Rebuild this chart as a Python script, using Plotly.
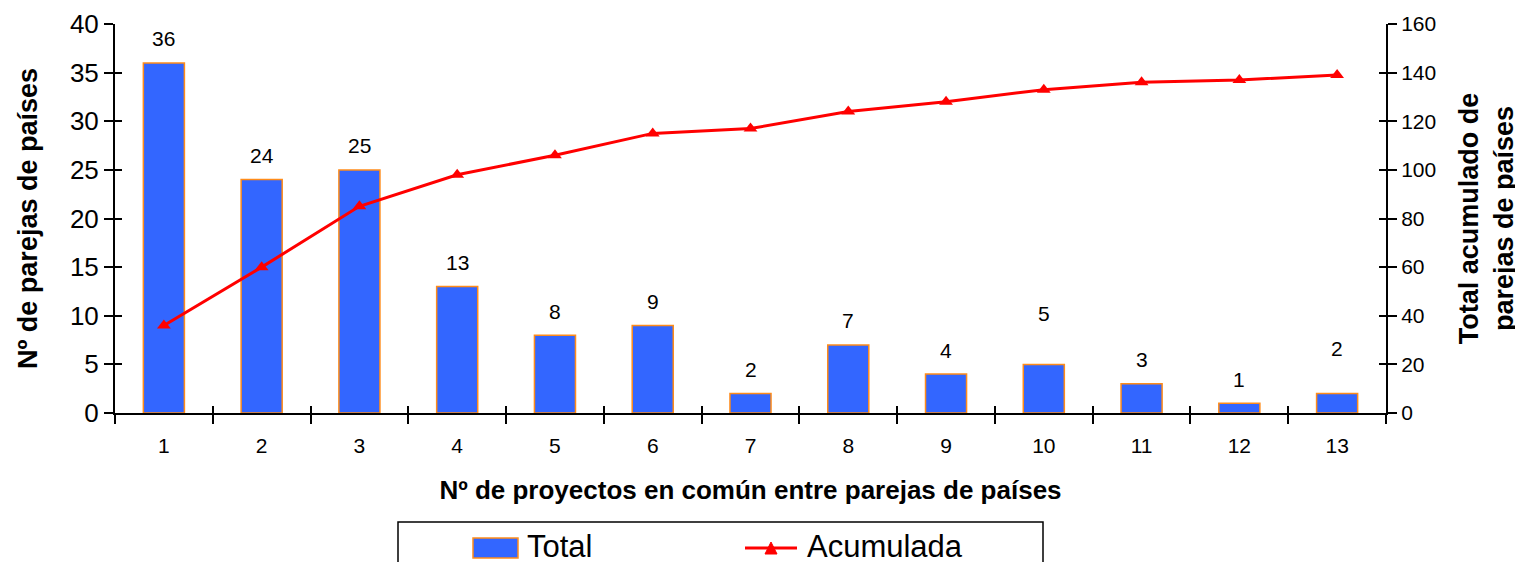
import plotly.graph_objects as go

categories = ["1", "2", "3", "4", "5", "6", "7", "8", "9", "10", "11", "12", "13"]
total = [36, 24, 25, 13, 8, 9, 2, 7, 4, 5, 3, 1, 2]
acumulada = [36, 60, 85, 98, 106, 115, 117, 124, 128, 133, 136, 137, 139]
series_names = ["Total", "Acumulada"]

FONT = "Liberation Sans, Arial, sans-serif"
BLUE = "#3366FF"
ORANGE = "#FF8C1A"
RED = "#FF0000"

W, H = 1523, 562
OFF = 8  # page body margin: the figure is drawn 8px right/down in the window
# desired plot area in window pixels: x 115..1386, y 24..413
ML, MT = 115 - OFF, 24 - OFF
MR = W + OFF - 1386
MB = H + OFF - 413
PW, PH = W - ML - MR, H - MT - MB


def px(xp):
    return (xp - 115) / PW


def py(yp):
    return (413 - yp) / PH


fig = go.Figure()
fig.add_trace(go.Bar(
    x=categories, y=total, name=series_names[0],
    marker=dict(color=BLUE, line=dict(color=ORANGE, width=1.5)),
    width=0.42, yaxis="y", showlegend=False,
))
fig.add_trace(go.Scatter(
    x=categories, y=acumulada, name=series_names[1], mode="lines+markers",
    line=dict(color=RED, width=3),
    marker=dict(symbol="triangle-up", size=12, color=RED),
    yaxis="y2", showlegend=False,
))
# invisible helper traces so the overlay axes (inner tick marks) are drawn
fig.add_trace(go.Scatter(x=categories, y=[0] * len(categories), xaxis="x2", yaxis="y3",
                         showlegend=False, mode="markers", marker=dict(opacity=0),
                         hoverinfo="skip"))
fig.add_trace(go.Scatter(x=[categories[0]], y=[0], xaxis="x", yaxis="y4", showlegend=False,
                         mode="markers", marker=dict(opacity=0), hoverinfo="skip"))

# data labels above bars (pixel lift; two labels sit higher in the original)
extra_lift = {"10": 27, "13": 21}
for i, (c, v) in enumerate(zip(categories, total)):
    fig.add_annotation(x=i, y=v, xref="x", yref="y", text=str(v), showarrow=False,
                       yshift=24 + extra_lift.get(c, 0),
                       font=dict(family=FONT, size=21, color="black"))

axis_common = dict(showgrid=False, zeroline=False, showline=True, linecolor="black",
                   linewidth=2, ticks="outside", tickcolor="black", tickwidth=2, ticklen=9,
                   automargin=False)
inner_common = dict(showgrid=False, zeroline=False, showline=False, showticklabels=False,
                    ticks="inside", tickcolor="black", tickwidth=2, ticklen=7, automargin=False)

fig.update_layout(
    width=W, height=H,
    margin=dict(l=ML, r=MR, t=MT, b=MB, autoexpand=False),
    plot_bgcolor="white", paper_bgcolor="white",
    font=dict(family=FONT, color="black"),
    showlegend=False,
    xaxis=dict(type="category", tickson="boundaries", range=[-0.5, 12.5],
               tickfont=dict(size=21), ticklabelstandoff=13, **axis_common,
               title=dict(text="<b>Nº de proyectos en común entre parejas de países</b>",
                          font=dict(size=26), standoff=25)),
    xaxis2=dict(type="category", tickson="boundaries", range=[-0.5, 12.5], overlaying="x",
                **inner_common),
    yaxis=dict(range=[0, 40], dtick=5, tickfont=dict(size=26), **axis_common,
               title=dict(text="<b>Nº de parejas de países</b>", font=dict(size=27), standoff=24)),
    yaxis2=dict(range=[0, 160], dtick=20, overlaying="y", side="right",
                tickfont=dict(size=21), **axis_common,
                title=dict(text="<b>Total acumulado de<br>parejas de países</b>",
                           font=dict(size=27), standoff=24)),
    yaxis3=dict(range=[0, 40], dtick=5, overlaying="y", side="left", **inner_common),
    yaxis4=dict(range=[0, 160], dtick=20, overlaying="y", side="right", **inner_common),
)

# legend drawn manually (box runs past the bottom edge as in the original)
fig.add_shape(type="rect", xref="paper", yref="paper", x0=px(398), x1=px(1043),
              y0=py(590), y1=py(522), line=dict(color="black", width=1.5), fillcolor="white",
              layer="above")
fig.add_shape(type="rect", xref="paper", yref="paper", x0=px(473), x1=px(518),
              y0=py(558), y1=py(538), line=dict(color=ORANGE, width=1.5), fillcolor=BLUE,
              layer="above")
fig.add_shape(type="line", xref="paper", yref="paper", x0=px(745), x1=px(797),
              y0=py(548), y1=py(548), line=dict(color=RED, width=3), layer="above")
fig.add_shape(type="path", xref="paper", yref="paper",
              path=f"M {px(765)} {py(554)} L {px(777)} {py(554)} L {px(771)} {py(542)} Z",
              line=dict(color=RED, width=1), fillcolor=RED, layer="above")
fig.add_annotation(x=px(525), y=py(546), xref="paper", yref="paper", xanchor="left",
                   yanchor="middle", text=series_names[0], showarrow=False,
                   font=dict(family=FONT, size=31, color="black"))
fig.add_annotation(x=px(805), y=py(546), xref="paper", yref="paper", xanchor="left",
                   yanchor="middle", text=series_names[1], showarrow=False,
                   font=dict(family=FONT, size=31, color="black"))

fig.write_html("out.html")
